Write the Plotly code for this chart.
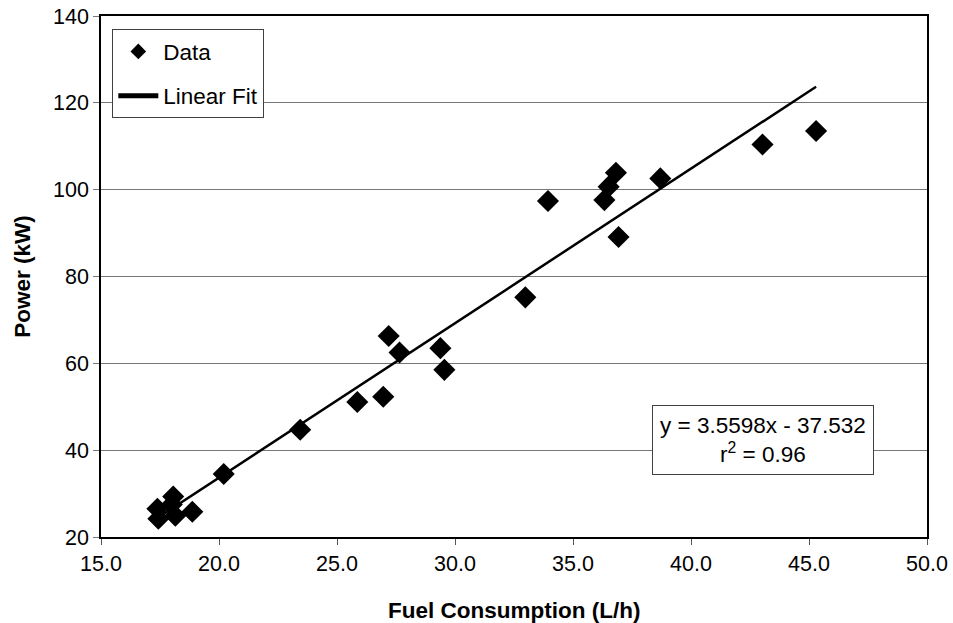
import plotly.graph_objects as go

# Data
fuel = [17.39, 17.43, 18.06, 18.15, 18.87, 18.0, 20.2, 23.44, 25.86, 26.96, 27.19,
        27.65, 29.38, 29.55, 32.98, 33.94, 36.33, 36.51, 36.82, 36.93, 38.70, 43.03, 45.3]
power = [26.5, 24.2, 29.3, 24.9, 25.8, 27.5, 34.5, 44.7, 51.1, 52.3, 66.3,
         62.5, 63.5, 58.5, 75.2, 97.4, 97.6, 100.7, 103.9, 89.1, 102.6, 110.4, 113.5]

fit_x = [17.3, 45.3]
fit_y = [24.05, 123.7]

x_ticks = [15, 20, 25, 30, 35, 40, 45, 50]
x_tick_labels = ["15.0", "20.0", "25.0", "30.0", "35.0", "40.0", "45.0", "50.0"]
y_ticks = [20, 40, 60, 80, 100, 120, 140]

x_title = "Fuel Consumption (L/h)"
y_title = "Power (kW)"
equation_text = "y = 3.5598x - 37.532<br>r<sup>2</sup> = 0.96"

FONT = "Liberation Sans, Arial, sans-serif"

fig = go.Figure()
fig.add_trace(go.Scatter(
    x=fuel, y=power, mode="markers", name="Data", legendgroup="a",
    marker=dict(symbol="diamond", size=17, color="black", line=dict(width=0)),
))
fig.add_trace(go.Scatter(
    x=fit_x, y=fit_y, mode="lines", name="Linear Fit", legendgroup="b",
    line=dict(color="black", width=2.5),
))

fig.update_layout(
    width=953, height=623,
    margin=dict(l=101, r=26, t=16, b=86, autoexpand=False),
    paper_bgcolor="white", plot_bgcolor="white",
    font=dict(family=FONT, size=21, color="black"),
    showlegend=True,
    legend=dict(
        x=0.0137, y=0.9745, xanchor="left", yanchor="top",
        bgcolor="white", bordercolor="#404040", borderwidth=1,
        font=dict(family=FONT, size=22.5, color="black"),
        traceorder="grouped", tracegroupgap=12,
        itemsizing="constant", itemwidth=40,
    ),
    xaxis=dict(
        range=[15, 50], tickvals=x_ticks, ticktext=x_tick_labels,
        showgrid=False, zeroline=False, automargin=False,
        showline=True, linecolor="black", linewidth=1.5, mirror=True,
        ticks="outside", ticklen=6, tickcolor="#555555",
        tickfont=dict(size=21.5),
    ),
    yaxis=dict(
        range=[20, 140], tickvals=y_ticks,
        showgrid=True, gridcolor="#777777", gridwidth=1, zeroline=False,
        automargin=False,
        showline=True, linecolor="black", linewidth=1.5, mirror=True,
        ticks="outside", ticklen=6, tickcolor="#777777",
        tickfont=dict(size=21.5),
    ),
    annotations=[
        dict(
            text=equation_text, xref="paper", yref="paper",
            x=0.802, y=0.1867, xanchor="center", yanchor="middle",
            showarrow=False, align="center",
            bgcolor="white", bordercolor="#404040", borderwidth=1, borderpad=7,
            font=dict(family=FONT, size=22.5, color="black"),
        ),
        dict(
            text="<b>" + x_title + "</b>", xref="paper", yref="paper",
            x=0.5, y=-0.141, xanchor="center", yanchor="middle",
            showarrow=False, font=dict(family=FONT, size=22.5, color="black"),
        ),
        dict(
            text="<b>" + y_title + "</b>", xref="paper", yref="paper",
            x=-0.0953, y=0.5, xanchor="center", yanchor="middle", textangle=-90,
            showarrow=False, font=dict(family=FONT, size=22.5, color="black"),
        ),
    ],
)

fig.write_html("out.html")
